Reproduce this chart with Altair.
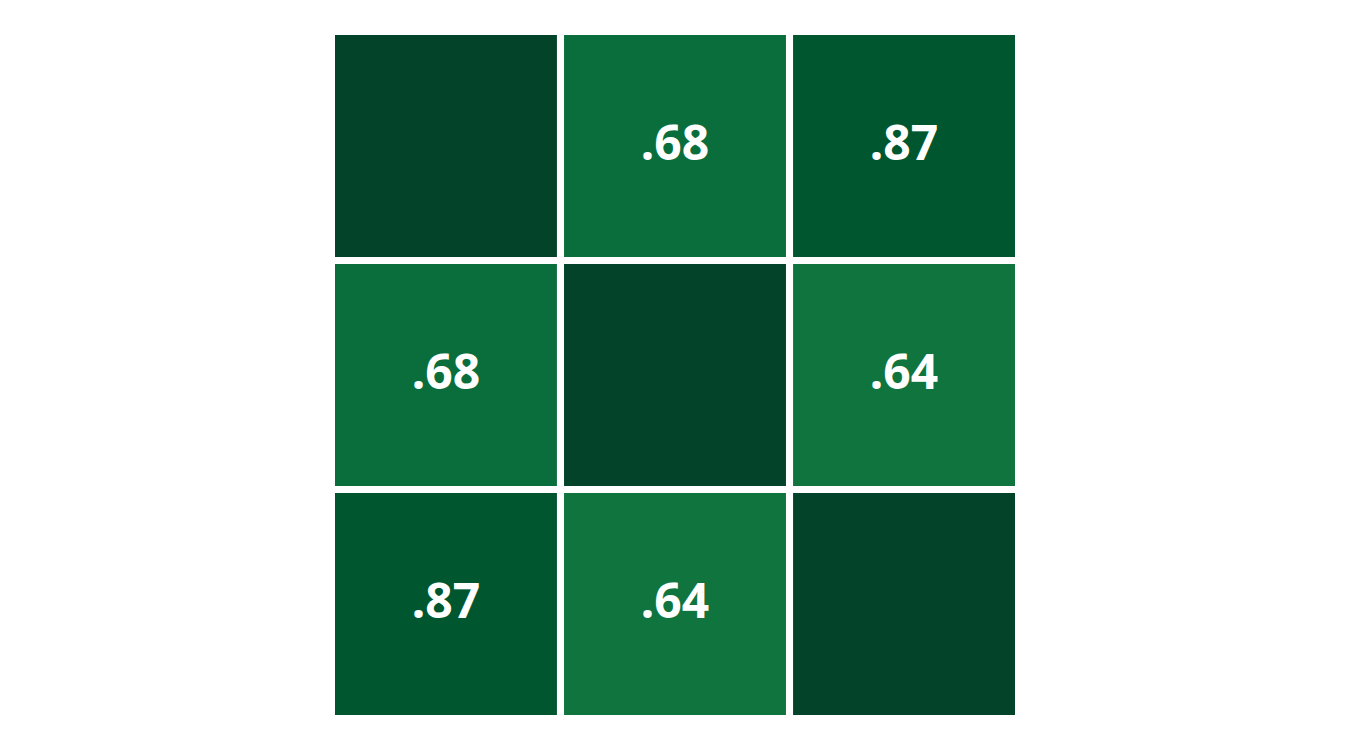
import altair as alt
import pandas as pd

variables = ["A", "B", "C"]
matrix = [
    [1.00, 0.68, 0.87],
    [0.68, 1.00, 0.64],
    [0.87, 0.64, 1.00],
]

rows = []
for i, r in enumerate(variables):
    for j, c in enumerate(variables):
        rows.append({"row": r, "col": c, "value": matrix[i][j]})
df = pd.DataFrame(rows)

x = alt.X("col:N", sort=variables, axis=None,
          scale=alt.Scale(paddingInner=0.031, paddingOuter=0))
y = alt.Y("row:N", sort=variables, axis=None,
          scale=alt.Scale(paddingInner=0.031, paddingOuter=0))

base = alt.Chart(df).encode(x=x, y=y)

rects = base.mark_rect().encode(
    color=alt.Color("value:Q", legend=None,
                    scale=alt.Scale(domain=[0.64, 0.68, 0.87, 1.0],
                                    range=["#10743e", "#0a6e3c", "#00562f", "#02432a"]))
)

texts = base.transform_filter("datum.value < 1").transform_calculate(
    label="substring(format(datum.value, '.2f'), 1)"
).mark_text(
    color="white", fontSize=48, fontWeight="bold", font="Noto Sans",
    baseline="middle", align="center", dy=0
).encode(text="label:N")

chart = (rects + texts).properties(
    width=680, height=680,
    padding={"left": 335, "top": 35, "right": 335, "bottom": 35},
).configure_view(stroke=None)

chart.save("out.html", embed_options={"renderer": "svg", "actions": False})
